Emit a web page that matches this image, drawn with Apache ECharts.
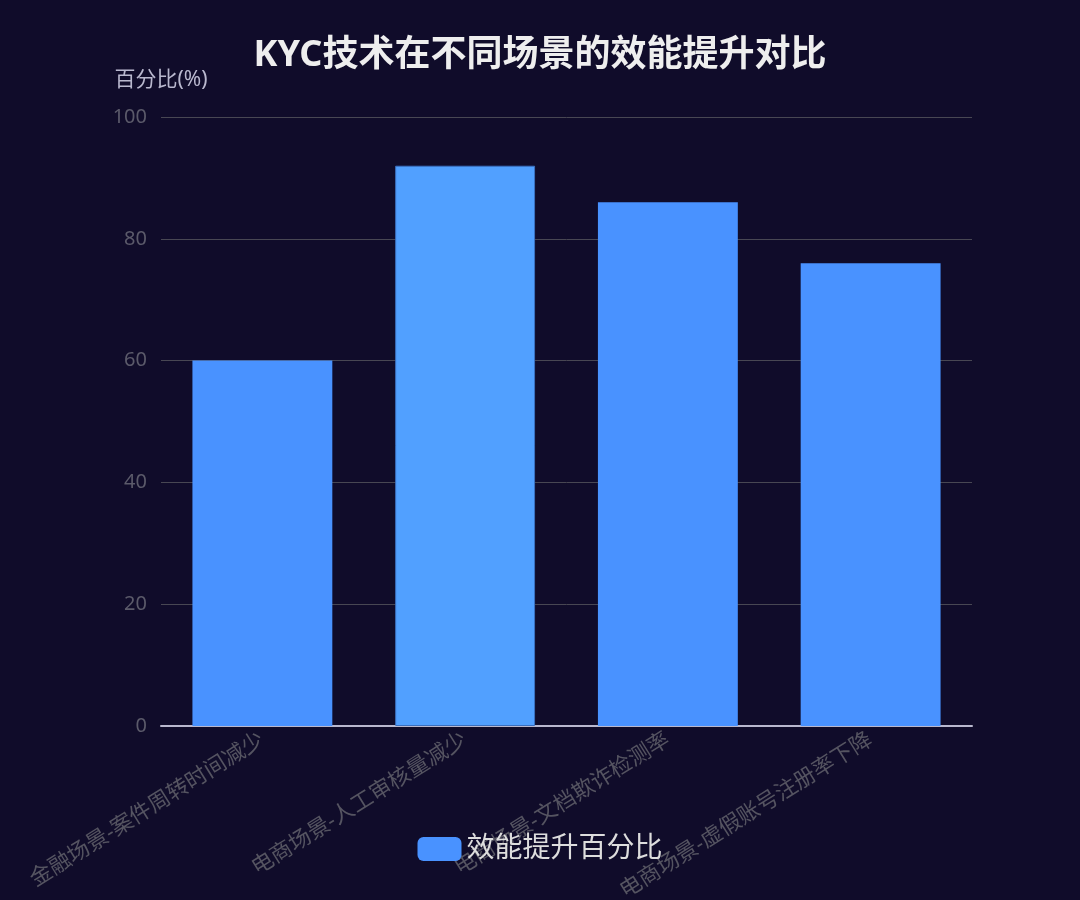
<!DOCTYPE html>
<html><head><meta charset="utf-8">
<script src="https://cdn.jsdelivr.net/npm/echarts@6/dist/echarts.min.js"></script>
<style>html,body{margin:0;padding:0;background:#100c2a;}#c{width:1080px;height:900px;}</style>
</head><body><div id="c"></div>
<script>
const categories = ['金融场景-案件周转时间减少','电商场景-人工审核量减少','电商场景-文档欺诈检测率','电商场景-虚假账号注册率下降'];
const values = [60, 92, 86, 76];
const seriesName = '效能提升百分比';
const chart = echarts.init(document.getElementById('c'));
const font = '"Noto Sans", "Noto Sans CJK SC", sans-serif';
chart.setOption({
  backgroundColor: '#100c2a',
  textStyle: {fontFamily: font},
  title: {text: 'KYC技术在不同场景的效能提升对比', left: 'center', top: 33,
    textStyle: {color: '#eeeeee', fontSize: 36, fontWeight: 'bold', fontFamily: font}},
  legend: {bottom: 32, left: 'center', itemWidth: 44, itemHeight: 24, itemGap: 10,
    textStyle: {color: '#dddddd', fontSize: 28, fontFamily: font},
    data: [{name: seriesName, icon: 'roundRect'}]},
  grid: {left: 161, right: 108, top: 117, bottom: 174, outerBoundsMode: 'none', containLabel: false},
  xAxis: {type: 'category', data: categories,
    axisLine: {lineStyle: {color: '#B9B8CE', width: 2}},
    axisTick: {show: false},
    axisLabel: {rotate: 32, color: '#555461', fontSize: 22, interval: 0, margin: 12, fontFamily: font}},
  yAxis: {type: 'value', min: 0, max: 100, interval: 20, name: '百分比(%)',
    nameGap: 26, nameTextStyle: {color: '#B9B8CE', fontSize: 21, align: 'center', padding: [0, 0, 0, 0]},
    axisLabel: {color: '#5b5a6a', fontSize: 20, margin: 14},
    splitLine: {lineStyle: {color: '#484753', width: 1}},
    axisLine: {show: false}},
  series: [{name: seriesName, type: 'bar', barWidth: '69%',
    itemStyle: {color: '#4992ff'},
    data: values.map((v, i) => i === 1 ? {value: v, itemStyle: {color: '#51a0ff', borderColor: '#3a70c0', borderWidth: 1}} : v)}]
});
</script></body></html>
